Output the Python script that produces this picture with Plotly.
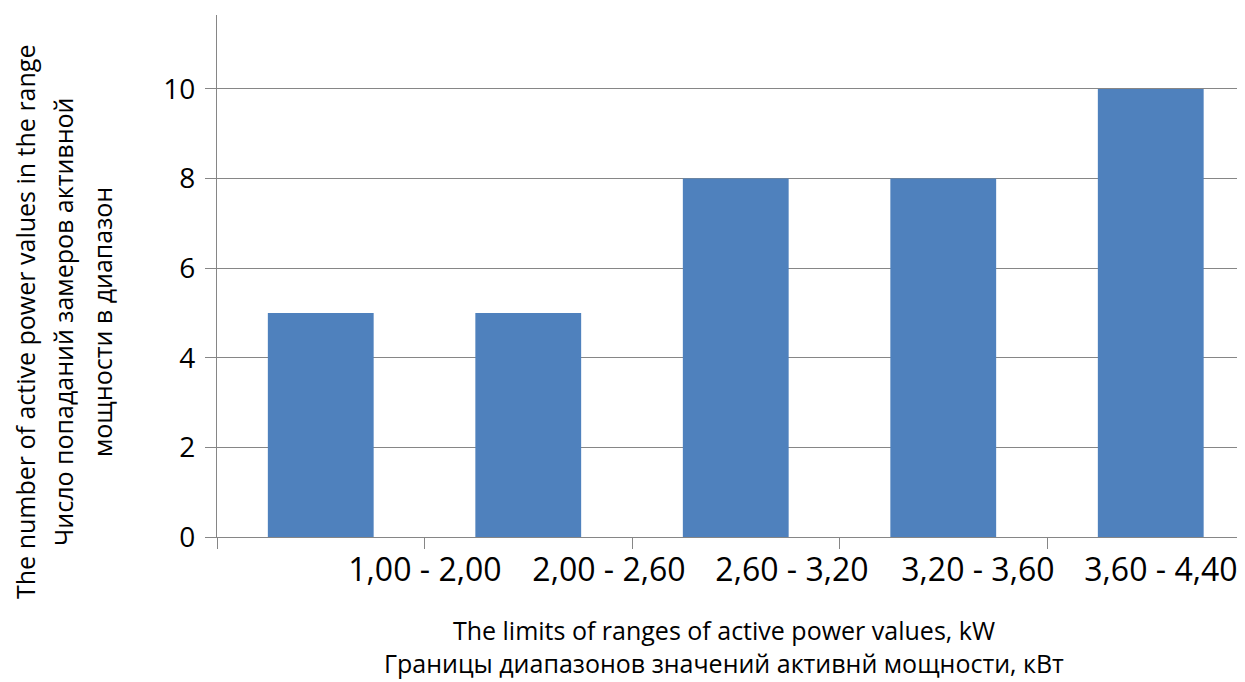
import plotly.graph_objects as go

categories = ["1,00 - 2,00", "2,00 - 2,60", "2,60 - 3,20", "3,20 - 3,60", "3,60 - 4,40"]
counts = [5, 5, 8, 8, 10]
label_pos = [0.502, 1.389, 2.271, 3.167, 4.049]
boundary_ticks = [-0.5, 0.5, 1.5, 2.5, 3.5, 4.5]
y_ticks = [0, 2, 4, 6, 8, 10]

ytitle_lines = ["The number of active power values in the range",
                "Число попаданий замеров активной",
                "мощности в диапазон"]
xtitle_lines = ["The limits of ranges of active power values, kW",
                "Границы диапазонов значений активнй мощности, кВт"]

# page body has an 8px margin; work in reference pixels and subtract it
O = 8
W, H = 1245 - O, 682 - O
L, T = 217 - O, 15 - O
ph = 537 - 15
pw = W - L
B = H - T - ph
R = 0
cat_px = 207.5
xr = [-0.5, -0.5 + pw / cat_px]
yr = [0, 11.65]
grey = "#868686"
font = "Open Sans"

fig = go.Figure()
fig.add_trace(go.Bar(x=list(range(len(counts))), y=counts, marker_color="#4F81BD",
                     marker_line_width=0, width=0.51, showlegend=False))
# invisible trace for the label axis
fig.add_trace(go.Scatter(x=label_pos, y=[0]*len(label_pos), xaxis="x2", mode="markers",
                         marker_opacity=0, showlegend=False, hoverinfo="skip"))

fig.update_layout(
    width=W, height=H, margin=dict(l=L, r=R, t=T, b=B, pad=0),
    paper_bgcolor="white", plot_bgcolor="white",
    font=dict(family=font, color="black"),
    xaxis=dict(range=xr, tickmode="array", tickvals=boundary_ticks, showticklabels=False,
               ticks="outside", ticklen=11, tickcolor=grey, tickwidth=1,
               showline=True, linecolor=grey, linewidth=1.3, showgrid=False, zeroline=False),
    xaxis2=dict(range=xr, overlaying="x", side="bottom", tickmode="array",
                tickvals=label_pos, ticktext=categories, ticks="", showline=False,
                showgrid=False, zeroline=False, tickfont=dict(size=32, family=font),
                ticklabelstandoff=11),
    yaxis=dict(range=yr, tickmode="array", tickvals=y_ticks, ticks="outside", ticklen=11,
               tickcolor=grey, tickwidth=1, showline=True, linecolor=grey, linewidth=1.3,
               showgrid=True, gridcolor=grey, gridwidth=1.3, zeroline=False,
               tickfont=dict(size=28, family=font), ticklabelstandoff=4),
)

def px_to_xpaper(px):
    return (px - O - L) / pw

def px_to_ypaper(py):
    return 1 - (py - O - T) / ph

for txt, cx in zip(ytitle_lines, [25, 63, 102]):
    fig.add_annotation(text=txt, xref="paper", yref="paper", x=px_to_xpaper(cx), y=px_to_ypaper(322),
                       textangle=-90, showarrow=False, xanchor="center", yanchor="middle",
                       font=dict(size=25, family=font, color="black"))

fig.add_annotation(text="<br>".join(xtitle_lines), xref="paper", yref="paper",
                   x=px_to_xpaper(724), y=px_to_ypaper(682), showarrow=False,
                   xanchor="center", yanchor="bottom", align="center",
                   font=dict(size=25, family=font, color="black"))

fig.write_html("out.html")
